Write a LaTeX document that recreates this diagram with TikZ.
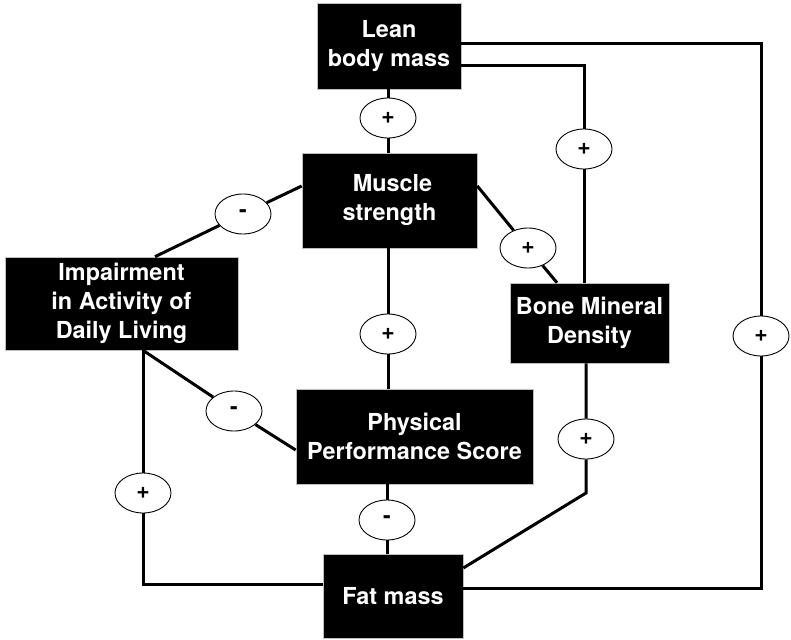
\documentclass[tikz,border=0pt]{standalone}
\usepackage{fontspec}
\setmainfont{TeX Gyre Heros}
\usetikzlibrary{shapes.geometric}
\tikzset{
  box/.style={fill=black, draw=gray!50, line width=0.6pt, text=white, align=center, inner sep=0pt,
    font=\bfseries\fontsize{23.4}{29}\selectfont},
  sign/.style={ellipse, draw, line width=0.9pt, fill=white, minimum width=56pt, minimum height=40pt,
    inner sep=0pt, font=\bfseries\fontsize{23}{23}\selectfont},
  link/.style={line width=3pt}
}
\begin{document}
\begin{tikzpicture}[x=1pt,y=-1pt]
  \useasboundingbox (0,0) rectangle (791,639);
  % boxes
  \node[box, minimum width=144pt, minimum height=86pt] (lean) at (389,46) {Lean\\body mass};
  \node[box, minimum width=175pt, minimum height=95pt] (muscle) at (389.5,200.5) {\hspace{6pt}Muscle\\strength};
  \node[box, minimum width=233pt, minimum height=93pt] (adl) at (121.5,303.5) {Impairment\\in Activity of\\Daily Living};
  \node[box, minimum width=159pt, minimum height=80pt] (bmd) at (589.5,323) {Bone Mineral\\Density};
  \node[box, minimum width=237pt, minimum height=95pt] (pps) at (414.5,436.5) {Physical\\Performance Score};
  \node[box, minimum width=140pt, minimum height=84pt] (fat) at (393,596) {Fat mass};
  % signs
  \node[sign] (s-lm) at (388,118) {+};
  \node[sign] (s-lb) at (584,149) {+};
  \node[sign] (s-lf) at (761,336) {+};
  \node[sign] (s-ma) at (243,214) {-};
  \node[sign] (s-mb) at (528,248) {+};
  \node[sign] (s-mp) at (388,334) {+};
  \node[sign] (s-ap) at (234,411) {-};
  \node[sign] (s-af) at (143,493) {+};
  \node[sign] (s-pf) at (387,520) {-};
  \node[sign] (s-bf) at (586,439) {+};
  \coordinate (bfcorner) at (586,493);
  % links
  \draw[link] (s-lm |- lean.south) -- (s-lm) -- (s-lm |- muscle.north);
  \draw[link] ([yshift=-20pt]lean.east) -| (s-lb);
  \draw[link] (s-lb) -- (s-lb |- bmd.north);
  \draw[link] ([yshift=2pt]lean.east) -| (s-lf);
  \draw[link] (s-lf) |- ([yshift=8pt]fat.east);
  \draw[link] ([yshift=14.5pt]muscle.west) -- (s-ma) -- ([xshift=33.5pt]adl.north);
  \draw[link] ([yshift=14.5pt]muscle.east) -- (s-mb) -- ([xshift=-32.5pt]bmd.north);
  \draw[link] (s-mp |- muscle.south) -- (s-mp) -- (s-mp |- pps.north);
  \draw[link] ([xshift=21.5pt]adl.south) -- (s-ap) -- ([yshift=-13.5pt]pps.west);
  \draw[link] (s-af |- adl.south) -- (s-af);
  \draw[link] (s-af) |- ([yshift=12pt]fat.west);
  \draw[link] (s-pf |- pps.south) -- (s-pf) -- (s-pf |- fat.north);
  \draw[link] (s-bf |- bmd.south) -- (s-bf) -- (bfcorner) -- ([yshift=28pt]fat.east);
\end{tikzpicture}
\end{document}
